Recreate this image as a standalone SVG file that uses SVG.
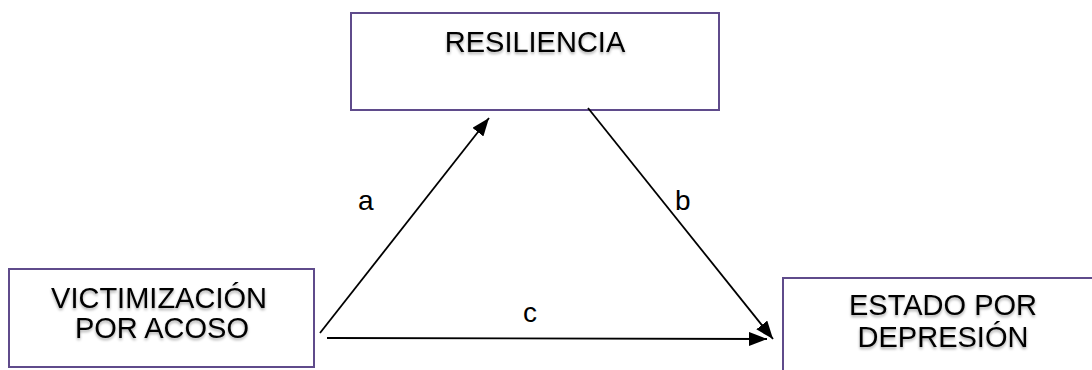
<svg xmlns="http://www.w3.org/2000/svg" width="1092" height="370" viewBox="0 0 1092 370">
<style>
.box{fill:#ffffff;stroke:#5f4b8b;stroke-width:2}
.t{font-family:"Liberation Sans",Arial,sans-serif;font-size:29px;fill:#000;text-anchor:middle}
.lbl{font-family:"Liberation Sans",Arial,sans-serif;font-size:28px;fill:#000}
.edge{stroke:#000;stroke-width:1.8;fill:none;marker-end:url(#ah)}
</style>
<defs>
<marker id="ah" viewBox="0 0 18 14" refX="18" refY="7" markerUnits="userSpaceOnUse" markerWidth="18" markerHeight="14" orient="auto">
<path d="M0,0 L18,7 L0,14 z" fill="#000"/>
</marker>
<filter id="sh" x="-10%" y="-20%" width="120%" height="140%">
<feGaussianBlur in="SourceAlpha" stdDeviation="1.5"/>
<feOffset dx="0" dy="2" result="b"/>
<feComponentTransfer><feFuncA type="linear" slope="0.35"/></feComponentTransfer>
<feMerge><feMergeNode/><feMergeNode in="SourceGraphic"/></feMerge>
</filter>
</defs>
<g id="node-resiliencia">
<rect class="box" x="351" y="13" width="368" height="97"/>
<text class="t" x="535" y="52" filter="url(#sh)">RESILIENCIA</text>
</g>
<g id="node-victimizacion">
<rect class="box" x="9" y="269" width="305" height="98"/>
<text class="t" x="159" y="308" filter="url(#sh)">VICTIMIZACIÓN</text>
<text class="t" x="162" y="338" filter="url(#sh)">POR ACOSO</text>
</g>
<g id="node-estado">
<rect class="box" x="783" y="278" width="320" height="100"/>
<text class="t" x="943" y="315" filter="url(#sh)">ESTADO POR</text>
<text class="t" x="943" y="347" filter="url(#sh)">DEPRESIÓN</text>
</g>
<g id="connectors">
<line class="edge" x1="320" y1="333" x2="489" y2="118"/>
<line class="edge" x1="588" y1="108" x2="773" y2="339"/>
<line class="edge" x1="327" y1="338" x2="767" y2="339"/>
<text class="lbl" x="358" y="210">a</text>
<text class="lbl" x="675" y="210">b</text>
<text class="lbl" x="523" y="322">c</text>
</g>
</svg>
